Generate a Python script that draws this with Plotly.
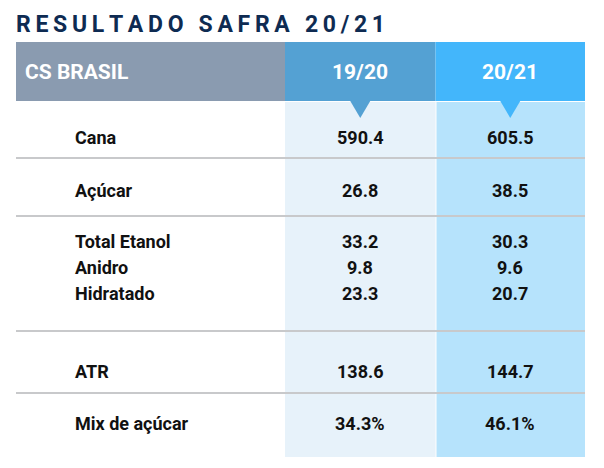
import plotly.graph_objects as go

# ---------------- data ----------------
title_text = "RESULTADO SAFRA 20/21"
header_label = "CS BRASIL"
seasons = ["19/20", "20/21"]
categories = ["Cana", "Açúcar", "Total Etanol", "Anidro", "Hidratado", "ATR", "Mix de açúcar"]
safra_1920 = [590.4, 26.8, 33.2, 9.8, 23.3, 138.6, 34.3]
safra_2021 = [605.5, 38.5, 30.3, 9.6, 20.7, 144.7, 46.1]
is_percent = [False, False, False, False, False, False, True]

# ---------------- layout grid (page pixels) ----------------
W, H = 604, 468
PAD = 8  # default body margin of the html page
left, right = 16, 585
col_edges = [285, 435.5, 585]
header_top, header_bot = 42, 101
body_bot = 457
row_y = [137, 190, 241, 267, 293, 371, 423]
sep_y = [158, 216, 331, 393]
label_x = 73

FONT = "Roboto, 'Open Sans', Arial, sans-serif"
TITLE_C = "#0e2b52"
GRAY = "#8a9bb0"
HEAD_C = ["#54a1d3", "#43b6fb"]
BODY_C = ["#e7f2fa", "#b6e3fc"]
LINE_C = "#c8c9cb"
TEXT_C = "#111111"

shapes = []
shapes.append(dict(type="rect", x0=left, x1=col_edges[0], y0=header_top, y1=header_bot,
                   fillcolor=GRAY, line=dict(width=0), layer="below"))
for i in range(2):
    x0, x1 = col_edges[i], col_edges[i + 1]
    shapes.append(dict(type="rect", x0=x0, x1=x1, y0=header_top, y1=header_bot,
                       fillcolor=HEAD_C[i], line=dict(width=0), layer="below"))
    shapes.append(dict(type="rect", x0=x0 + (1 if i else 0), x1=x1, y0=header_bot + 1, y1=body_bot,
                       fillcolor=BODY_C[i], line=dict(width=0), layer="below"))
for y in sep_y:
    shapes.append(dict(type="line", x0=left, x1=right, y0=y, y1=y,
                       line=dict(color=LINE_C, width=2), layer="below"))
for i in range(2):
    xc = (col_edges[i] + col_edges[i + 1]) / 2
    shapes.append(dict(type="path",
                       path=f"M {xc-10},{header_bot} L {xc+10},{header_bot} L {xc},{header_bot+17} Z",
                       fillcolor=HEAD_C[i], line=dict(width=0)))

annotations = []
spaced = "\u2009".join(list(title_text))
annotations.append(dict(x=14, y=24, xanchor="left", yanchor="middle", text=f"<b>{spaced}</b>",
                        showarrow=False, font=dict(family=FONT, size=23, color=TITLE_C)))
hy = (header_top + header_bot) / 2
annotations.append(dict(x=23, y=hy, xanchor="left", yanchor="middle", text=f"<b>{header_label}</b>",
                        showarrow=False, font=dict(family=FONT, size=21, color="white")))
for i, s in enumerate(seasons):
    xc = (col_edges[i] + col_edges[i + 1]) / 2
    annotations.append(dict(x=xc, y=hy, xanchor="center", yanchor="middle", text=f"<b>{s}</b>",
                            showarrow=False, font=dict(family=FONT, size=21, color="white")))


def fmt(v, pct):
    return f"{v:.1f}%" if pct else f"{v:.1f}"


for k, cat in enumerate(categories):
    y = row_y[k]
    annotations.append(dict(x=label_x, y=y, xanchor="left", yanchor="middle", text=f"<b>{cat}</b>",
                            showarrow=False, font=dict(family=FONT, size=18, color=TEXT_C)))
    for i, series in enumerate([safra_1920, safra_2021]):
        xc = (col_edges[i] + col_edges[i + 1]) / 2
        annotations.append(dict(x=xc, y=y, xanchor="center", yanchor="middle",
                                text=f"<b>{fmt(series[k], is_percent[k])}</b>",
                                showarrow=False, font=dict(family=FONT, size=18, color=TEXT_C)))

fig = go.Figure()
fig.add_trace(go.Scatter(x=[PAD, W - PAD], y=[PAD, H - PAD], mode="markers", marker=dict(opacity=0),
                         hoverinfo="skip", showlegend=False))
fig.update_layout(
    width=W - 2 * PAD, height=H - 2 * PAD, margin=dict(l=0, r=0, t=0, b=0),
    paper_bgcolor="white", plot_bgcolor="white",
    xaxis=dict(range=[PAD, W - PAD], visible=False, fixedrange=True),
    yaxis=dict(range=[H - PAD, PAD], visible=False, fixedrange=True),
    shapes=shapes, annotations=annotations, showlegend=False,
)
fig.write_html("out.html", config={"displayModeBar": False})
